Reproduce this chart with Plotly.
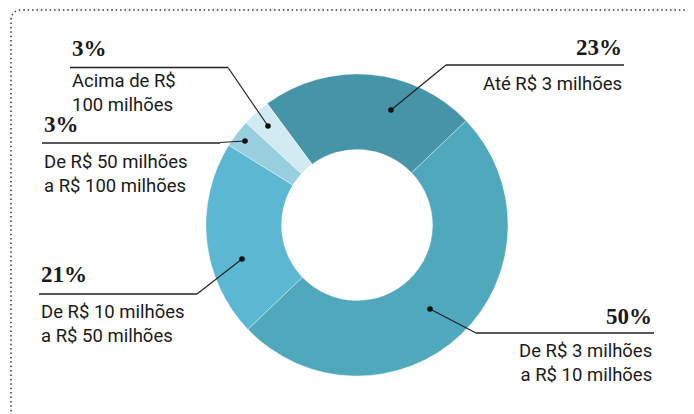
import plotly.graph_objects as go

# ---- data ----
categories = ["Até R$ 3 milhões", "De R$ 3 milhões a R$ 10 milhões",
              "De R$ 10 milhões a R$ 50 milhões", "De R$ 50 milhões a R$ 100 milhões",
              "Acima de R$ 100 milhões"]
values = [23, 50, 21, 3, 3]
pct_labels = ["23%", "50%", "21%", "3%", "3%"]
label_texts = ["Até R$ 3 milhões", "De R$ 3 milhões<br>a R$ 10 milhões",
               "De R$ 10 milhões<br>a R$ 50 milhões", "De R$ 50 milhões<br>a R$ 100 milhões",
               "Acima de R$<br>100 milhões"]
colors = ["#4694a7", "#50a8bc", "#5cb8d2", "#98cfdf", "#d2eaf2"]

# page offset (default body margin) compensation
OFF = 8
W, H = 694 - OFF, 414 - OFF
fig = go.Figure()

def px_x(p):
    return (p - OFF) / W

def px_y(p):
    return 1 - (p - OFF) / H

# pie (donut)
cx, cy, R = 357, 225, 151
fig.add_trace(go.Pie(
    values=values, labels=categories, sort=False, direction="clockwise",
    rotation=-36.5, hole=0.5, textinfo="none", hoverinfo="label+percent",
    marker=dict(colors=colors, line=dict(color="rgba(255,255,255,0.6)", width=0.6)),
    domain=dict(x=[px_x(cx - R), px_x(cx + R)], y=[px_y(cy + R), px_y(cy - R)]),
    showlegend=False,
))

fig.update_layout(
    width=W, height=H, margin=dict(l=0, r=0, t=0, b=0),
    paper_bgcolor="white", plot_bgcolor="rgba(0,0,0,0)",
    xaxis=dict(range=[OFF, 694], visible=False, fixedrange=True),
    yaxis=dict(range=[414, OFF], visible=False, fixedrange=True),
    showlegend=False,
)

# dotted frame
fig.add_shape(type="path", path="M 11,420 L 11,21 Q 11,10 22,10 L 700,10",
              xref="x", yref="y", line=dict(color="#333", width=1.5, dash="1.5px,2.9px"))

callouts = [
    dict(i=0, side="right", x0=446, x1=624, y=65, bend=(446, 65), dot=(391, 110), py=47, ly=83.5),
    dict(i=1, side="right", x0=476, x1=654, y=333, bend=(476, 333), dot=(430, 309), py=316, ly=363),
    dict(i=2, side="left", x0=39, x1=197, y=294, bend=(197, 294), dot=(242, 259), py=274, ly=324),
    dict(i=3, side="left", x0=42, x1=220, y=143, bend=(220, 142.5), dot=(245, 141), py=124, ly=174),
    dict(i=4, side="left", x0=70, x1=228, y=67.5, bend=(228, 67.5), dot=(268, 126), py=48, ly=92.5),
]

line_col = "#222"
for c in callouts:
    fig.add_shape(type="line", x0=c["x0"], x1=c["x1"], y0=c["y"], y1=c["y"],
                  line=dict(color=line_col, width=1.4))
    bx, by = c["bend"]
    dx, dy = c["dot"]
    fig.add_shape(type="line", x0=bx, y0=by, x1=dx, y1=dy, line=dict(color=line_col, width=1.2))
    fig.add_shape(type="circle", x0=dx - 2.8, x1=dx + 2.8, y0=dy - 2.8, y1=dy + 2.8,
                  fillcolor="#111", line=dict(width=0))
    if c["side"] == "left":
        ax, anchor = c["x0"], "left"
    else:
        ax, anchor = c["x1"], "right"
    fig.add_annotation(x=ax, y=c["py"], text="<b>" + pct_labels[c["i"]] + "</b>", showarrow=False,
                       xanchor=anchor, yanchor="middle", align=anchor,
                       font=dict(family="Liberation Serif, serif", size=23, color="#1a1a1a"))
    fig.add_annotation(x=ax, y=c["ly"], text=label_texts[c["i"]], showarrow=False,
                       xanchor=anchor, yanchor="middle", align=anchor,
                       font=dict(family="Roboto, sans-serif", size=18.5, color="#1a1a1a"))

fig.write_html("out.html")
